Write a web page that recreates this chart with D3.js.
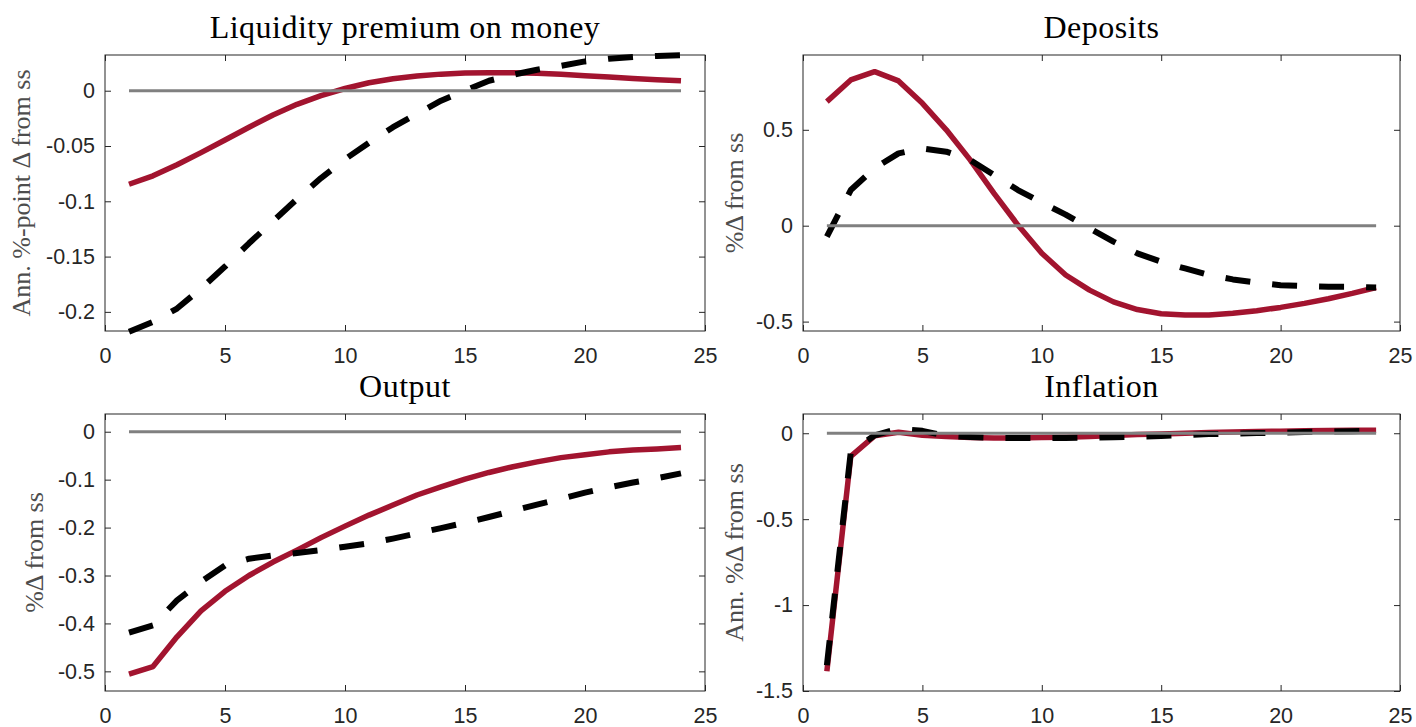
<!DOCTYPE html>
<html>
<head>
<meta charset="utf-8">
<script src="https://cdn.jsdelivr.net/npm/d3@7"></script>
<style>
  html, body { margin: 0; padding: 0; background: #ffffff; }
  svg { display: block; }
</style>
</head>
<body>
<svg id="chart" width="1416" height="727"></svg>
<script>
// ---------------- data ----------------
const periods = [1,2,3,4,5,6,7,8,9,10,11,12,13,14,15,16,17,18,19,20,21,22,23,24];
const xTicks = [0,5,10,15,20,25];

const titles = ["Liquidity premium on money", "Deposits", "Output", "Inflation"];
const yLabels = ["Ann. %-point \u0394 from ss", "%\u0394 from ss", "%\u0394 from ss", "Ann. %\u0394 from ss"];

const liqTicks = [0, -0.05, -0.1, -0.15, -0.2];
const depTicks = [0.5, 0, -0.5];
const outTicks = [0, -0.1, -0.2, -0.3, -0.4, -0.5];
const infTicks = [0, -0.5, -1, -1.5];

const liqDomain = [-0.2173, 0.0323];
const depDomain = [-0.549, 0.89];
const outDomain = [-0.541, 0.037];
const infDomain = [-1.5, 0.112];

const liqRed   = [-0.0846,-0.077,-0.067,-0.056,-0.0446,-0.033,-0.022,-0.0123,-0.0045,0.002,0.0072,0.0108,0.0133,0.015,0.016,0.0163,0.0163,0.0157,0.0148,0.0136,0.0123,0.011,0.010,0.009];
const liqBlack = [-0.218,-0.209,-0.197,-0.179,-0.159,-0.138,-0.118,-0.098,-0.079,-0.062,-0.047,-0.033,-0.021,-0.009,0.000,0.009,0.0145,0.019,0.0225,0.0265,0.029,0.0305,0.0315,0.032];

const depRed   = [0.647,0.76,0.803,0.755,0.638,0.5,0.343,0.169,0.0035,-0.144,-0.257,-0.336,-0.397,-0.437,-0.459,-0.466,-0.466,-0.457,-0.443,-0.426,-0.405,-0.381,-0.353,-0.322];
const depBlack = [-0.057,0.186,0.3,0.377,0.403,0.386,0.343,0.264,0.186,0.12,0.058,-0.014,-0.083,-0.144,-0.188,-0.223,-0.257,-0.28,-0.297,-0.31,-0.315,-0.318,-0.318,-0.322];

const outRed   = [-0.506,-0.49,-0.428,-0.374,-0.333,-0.3,-0.272,-0.247,-0.221,-0.197,-0.174,-0.153,-0.132,-0.115,-0.099,-0.085,-0.073,-0.063,-0.054,-0.048,-0.042,-0.038,-0.036,-0.033];
const outBlack = [-0.419,-0.404,-0.352,-0.313,-0.279,-0.265,-0.258,-0.253,-0.247,-0.24,-0.233,-0.223,-0.212,-0.201,-0.19,-0.178,-0.165,-0.152,-0.14,-0.127,-0.116,-0.106,-0.097,-0.087];

const infRed   = [-1.385,-0.135,-0.015,0.006,-0.012,-0.019,-0.025,-0.027,-0.027,-0.025,-0.023,-0.019,-0.013,-0.008,-0.004,0.0,0.004,0.007,0.01,0.012,0.014,0.016,0.017,0.018];
const infBlack = [-1.35,-0.11,-0.012,0.027,0.014,-0.015,-0.022,-0.027,-0.028,-0.028,-0.027,-0.025,-0.023,-0.021,-0.016,-0.01,-0.005,-0.002,0.001,0.004,0.007,0.01,0.012,0.014];

const zeroLine = periods.map(() => 0);

// ---------------- styles ----------------
const RED = "#A2142F";
const GREY = "#808080";
const AXIS = "#262626";
const LABEL = "#4d4d4d";
const TICKFONT = "'Liberation Sans', Arial, sans-serif";
const SERIF = "'Liberation Serif', 'Times New Roman', serif";

const svg = d3.select("#chart");

const panels = [
  { box: {x0:105, x1:705, y0:55,  y1:331}, dom: liqDomain, ticks: liqTicks, title: titles[0], ylab: yLabels[0], ylabX: 21,  red: liqRed, black: liqBlack },
  { box: {x0:803, x1:1400, y0:55, y1:331}, dom: depDomain, ticks: depTicks, title: titles[1], ylab: yLabels[1], ylabX: 734, red: depRed, black: depBlack },
  { box: {x0:105, x1:705, y0:414, y1:691}, dom: outDomain, ticks: outTicks, title: titles[2], ylab: yLabels[2], ylabX: 34,  red: outRed, black: outBlack },
  { box: {x0:803, x1:1400, y0:414, y1:691}, dom: infDomain, ticks: infTicks, title: titles[3], ylab: yLabels[3], ylabX: 734, red: infRed, black: infBlack }
];

panels.forEach(p => {
  const b = p.box;
  const x = d3.scaleLinear().domain([0, 25]).range([b.x0, b.x1]);
  const y = d3.scaleLinear().domain(p.dom).range([b.y1, b.y0]);
  const g = svg.append("g");

  // axes (ticks pointing inward on all four sides)
  const styleAxis = sel => {
    sel.select(".domain").remove();
    sel.selectAll(".tick line").attr("stroke", AXIS).attr("stroke-width", 1);
    sel.selectAll(".tick text").attr("fill", AXIS).style("font-family", TICKFONT).style("font-size", "21.5px");
  };
  g.append("g").attr("transform", `translate(0,${b.y1})`)
    .call(d3.axisBottom(x).tickValues(xTicks).tickFormat(d => String(d)).tickSize(-6).tickPadding(17))
    .call(styleAxis);
  g.append("g").attr("transform", `translate(0,${b.y0})`)
    .call(d3.axisTop(x).tickValues(xTicks).tickFormat("").tickSize(-6))
    .call(styleAxis);
  g.append("g").attr("transform", `translate(${b.x0},0)`)
    .call(d3.axisLeft(y).tickValues(p.ticks).tickFormat(d => String(d)).tickSize(-6).tickPadding(10))
    .call(styleAxis);
  g.append("g").attr("transform", `translate(${b.x1},0)`)
    .call(d3.axisRight(y).tickValues(p.ticks).tickFormat("").tickSize(-6))
    .call(styleAxis);

  // box
  g.append("rect")
    .attr("x", b.x0).attr("y", b.y0)
    .attr("width", b.x1 - b.x0).attr("height", b.y1 - b.y0)
    .attr("fill", "none").attr("stroke", AXIS).attr("stroke-width", 1);

  const line = d3.line().x((d, i) => x(periods[i])).y(d => y(d));

  g.append("path").datum(p.red)
    .attr("d", line).attr("fill", "none")
    .attr("stroke", RED).attr("stroke-width", 5.5).attr("stroke-linejoin", "round");

  g.append("path").datum(p.black)
    .attr("d", line).attr("fill", "none")
    .attr("stroke", "#000").attr("stroke-width", 6)
    .attr("stroke-dasharray", "25,22").attr("stroke-linejoin", "round");

  g.append("path").datum(zeroLine)
    .attr("d", line).attr("fill", "none")
    .attr("stroke", GREY).attr("stroke-width", 3);

  // title
  g.append("text")
    .attr("x", (b.x0 + b.x1) / 2).attr("y", b.y0 - 17)
    .attr("text-anchor", "middle")
    .style("font-family", SERIF).style("font-size", "32px")
    .style("letter-spacing", "0.5px")
    .attr("fill", "#000")
    .text(p.title);

  // y label
  g.append("text")
    .attr("transform", `translate(${p.ylabX},${(b.y0 + b.y1) / 2}) rotate(-90)`)
    .attr("text-anchor", "middle")
    .attr("dy", "0.35em")
    .style("font-family", SERIF).style("font-size", "26px")
    .attr("fill", LABEL)
    .text(p.ylab);
});
</script>
</body>
</html>
